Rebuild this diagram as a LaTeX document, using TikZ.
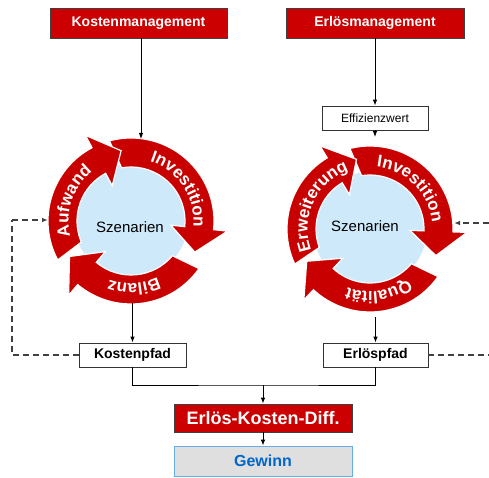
\documentclass[tikz,border=0pt]{standalone}
\usepackage{fontspec}
\setmainfont{Liberation Sans}
\usetikzlibrary{arrows.meta,decorations.text}

\definecolor{boxred}{RGB}{204,0,0}
\definecolor{ringred}{RGB}{200,0,0}
\definecolor{skyfill}{RGB}{206,233,250}
\definecolor{gewinnblue}{RGB}{0,102,204}
\definecolor{gewinnedge}{RGB}{100,175,230}

\newcommand{\ringfont}{\bfseries\fontsize{17}{17}\selectfont}

% one red arrow of a cycle: centre, tail angle, tip angle, text, text shift
\newcommand{\ringarrow}[5]{%
  \filldraw[ringpart] ([shift={(#2:83)}]#1) arc[start angle=#2, end angle=#3+20, radius=83]
    -- ([shift={(#3+20:97)}]#1) -- ([shift={(#3:71)}]#1) -- ([shift={(#3+20:40)}]#1)
    -- ([shift={(#3+20:54)}]#1) arc[start angle=#3+20, end angle=#2-5, radius=54] -- cycle;
  \path[decorate, decoration={text along path, text color=white, text align=center,
      text={|\ringfont|#4}}]
    ([shift={(#2+#5:62.5)}]#1) arc[start angle=#2+#5, end angle=#3+#5, radius=62.5];
}

\tikzset{
  redbox/.style={draw=black!75, fill=boxred, text=white, line width=0.8pt,
    font=\bfseries\fontsize{14}{14}\selectfont, minimum height=30pt, inner sep=0pt},
  pathbox/.style={draw=black!80, fill=white, line width=0.8pt,
    font=\bfseries\fontsize{14}{14}\selectfont, minimum height=24pt, inner sep=0pt},
  ringpart/.style={fill=ringred, draw=white, line width=1.2pt},
  flow/.style={line width=0.9pt, -{Latex[length=6pt,width=4.5pt]}},
  fb/.style={line width=1.1pt, black!75, dash pattern=on 6pt off 4pt}
}

\begin{document}
\begin{tikzpicture}[x=1pt, y=1pt]
    \useasboundingbox (0,0) rectangle (489,477);

    % Management boxes
    \node[redbox, minimum width=177pt] (kosten) at (138.5,454) {Kostenmanagement};
    \node[redbox, minimum width=178pt] (erloes) at (375,454) {Erlösmanagement};
    \node[pathbox, font=\fontsize{12}{12}\selectfont, minimum width=106pt] (effizienz) at (375,359) {Effizienzwert};

    % Cycles
    \coordinate (ck) at (131,256);
    \coordinate (ce) at (370,248);
    \fill[skyfill] (ck) circle[radius=57];
    \fill[skyfill] (ce) circle[radius=57];

    \ringarrow{ck}{105}{-26}{Investition}{-6}
    \ringarrow{ck}{-35}{-150}{Bilanz}{5}
    \ringarrow{ck}{208}{98}{Aufwand}{8}

    \ringarrow{ce}{104}{-22}{Investition}{4}
    \ringarrow{ce}{-35}{-153}{Qualität}{12}
    \ringarrow{ce}{205}{101}{Erweiterung}{2}

    \node[font=\fontsize{15}{15}\selectfont] (szk) at (130,250) {Szenarien};
    \node[font=\fontsize{15}{15}\selectfont] (sze) at (365,251) {Szenarien};

    % Path boxes and result
    \node[pathbox, minimum width=107pt] (kpfad) at (132.5,122) {Kostenpfad};
    \node[pathbox, minimum width=105pt] (epfad) at (375.5,122) {Erlöspfad};
    \node[redbox, font=\bfseries\fontsize{18}{18}\selectfont, minimum width=178pt, minimum height=28pt] (diff) at (263,59) {Erlös-Kosten-Diff.};
    \node[draw=gewinnedge, fill=gray!25, line width=0.8pt, text=gewinnblue,
      font=\bfseries\fontsize{16}{16}\selectfont, minimum width=178pt, minimum height=30pt, inner sep=0pt] (gewinn) at (263,16) {Gewinn};

    % Connectors
    \coordinate (kin) at (141,338);
    \coordinate (ein) at (375,340);
    \coordinate (kout) at (132.5,174);
    \coordinate (eout) at (375.5,160);
    \coordinate (join) at (263,92);
    \draw[flow] (kosten.south -| kin) -- (kin);
    \draw[flow] (erloes) -- (effizienz);
    \draw[flow] (effizienz) -- (ein);
    \draw[flow] (kout) -- (kpfad);
    \draw[flow] (eout) -- (epfad);
    \draw[line width=0.9pt] (kpfad.south) |- (join) -| (epfad.south);
    \draw[flow] (join) -- (diff);
    \draw[flow] (diff) -- (gewinn);

    % Feedback (dashed)
    \coordinate (kcorner) at (12,257);
    \coordinate (kfb) at (48,257);
    \coordinate (eedge) at (489,122);
    \coordinate (eback) at (489,254);
    \coordinate (efb) at (454,254);
    \draw[fb] (kpfad.west) -| (kcorner);
    \draw[fb, -{Latex[length=6pt,width=4.5pt]}] (kcorner) -- (kfb);
    \draw[fb] (epfad.east) -- (eedge);
    \draw[fb, -{Latex[length=6pt,width=4.5pt]}] (eback) -- (efb);
\end{tikzpicture}
\end{document}
